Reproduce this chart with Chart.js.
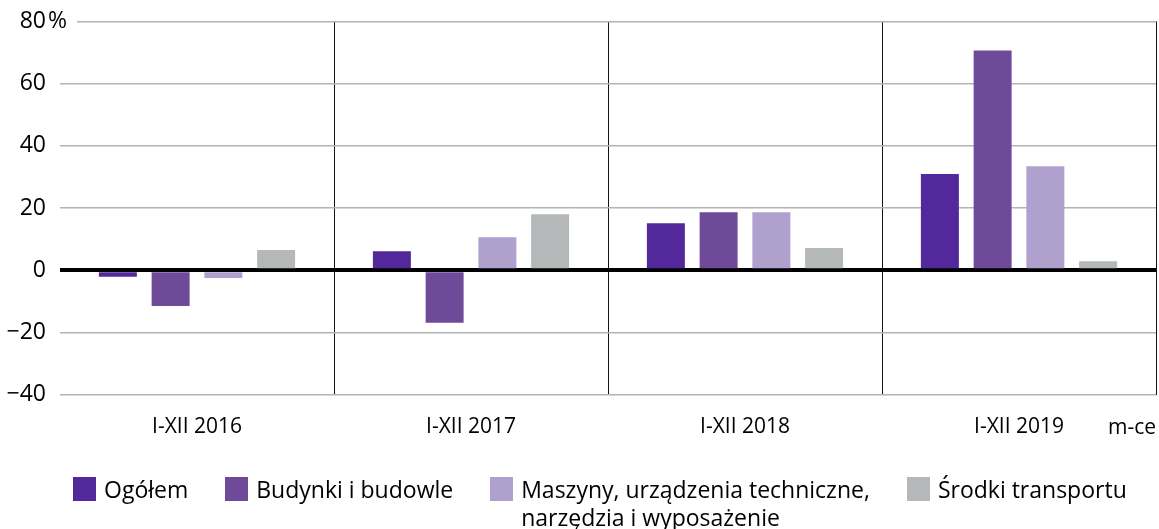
<!DOCTYPE html>
<html>
<head>
<meta charset="utf-8">
<script src="https://cdn.jsdelivr.net/npm/chart.js@4"></script>
<style>
  html, body { margin: 0; padding: 0; background: #fff; }
  #wrap { position: relative; width: 1159px; height: 529px; }
  #legend {
    position: absolute; left: 73px; top: 475px;
    display: flex; align-items: flex-start; gap: 37px;
    font-family: "Open Sans", sans-serif; font-size: 23px; color: #000; line-height: 28px;
  }
  .item { display: flex; align-items: flex-start; }
  .box { width: 23px; height: 24px; margin-top: 2px; margin-right: 8px; flex: none; }
  .lbl { white-space: pre-line; }
</style>
</head>
<body>
<div id="wrap">
  <canvas id="chart" width="1159" height="529"></canvas>
  <div id="legend"></div>
</div>
<script>
const categories = ["I-XII 2016", "I-XII 2017", "I-XII 2018", "I-XII 2019"];
const seriesNames = ["Ogółem", "Budynki i budowle", "Maszyny, urządzenia techniczne,\nnarzędzia i wyposażenie", "Środki transportu"];
const seriesColors = ["#52289a", "#6e4a98", "#b0a0ce", "#b5b8b9"];
const ogolem = [-2.1, 6.1, 15.1, 30.9];
const budynki = [-11.5, -16.9, 18.6, 70.7];
const maszyny = [-2.5, 10.6, 18.6, 33.4];
const srodki = [6.5, 18.0, 7.1, 2.9];
const seriesValues = [ogolem, budynki, maszyny, srodki];
const yTicks = [-40, -20, 0, 20, 40, 60, 80];
const unitLabel = "%";
const xUnitLabel = "m-ce";

const FONT = "'Open Sans'";

const datasets = seriesNames.map((name, i) => ({
  label: name,
  data: seriesValues[i],
  backgroundColor: seriesColors[i],
  borderWidth: 0,
  categoryPercentage: 0.77,
  barPercentage: 0.72,
}));

// legend as html
const legendEl = document.getElementById("legend");
seriesNames.forEach((name, i) => {
  const item = document.createElement("div");
  item.className = "item";
  item.innerHTML = '<span class="box" style="background:' + seriesColors[i] + '"></span><span class="lbl"></span>';
  item.querySelector(".lbl").textContent = name;
  legendEl.appendChild(item);
});

const extras = {
  id: "extras",
  afterDraw(chart) {
    const ctx = chart.ctx;
    const y = chart.scales.y;
    const x = chart.scales.x;
    const area = chart.chartArea;
    ctx.save();
    // cut top gridline where the % sign sits and draw it
    const yTop = y.getPixelForValue(yTicks[yTicks.length - 1]);
    ctx.fillStyle = "#fff";
    ctx.fillRect(area.left - 1, yTop - 3, 18, 6);
    ctx.fillStyle = "#000";
    ctx.font = "23px " + FONT;
    ctx.textBaseline = "middle";
    ctx.textAlign = "left";
    ctx.fillText(unitLabel, area.left - 12, yTop);
    // m-ce label on the category line
    ctx.font = "21px " + FONT;
    ctx.textAlign = "right";
    ctx.fillText(xUnitLabel, chart.width - 3, x.top + 34);
    ctx.restore();
  }
};

new Chart(document.getElementById("chart"), {
  type: "bar",
  data: { labels: categories, datasets },
  plugins: [extras],
  options: {
    responsive: false,
    animation: false,
    layout: { padding: { top: 21.5, right: 3, left: 0, bottom: 0 } },
    plugins: { legend: { display: false }, tooltip: { enabled: false } },
    scales: {
      x: {
        grid: {
          offset: true,
          drawTicks: false,
          color: (c) => (c.index === 0 || c.index === categories.length ? "rgba(0,0,0,0)" : "#111"),
          lineWidth: 1,
        },
        border: { display: false },
        ticks: { color: "#000", font: { family: FONT, size: 21 }, padding: 20 },
        afterFit: (s) => { s.height = 134.5; },
      },
      y: {
        min: -40,
        max: 80,
        afterBuildTicks: (s) => { s.ticks = yTicks.map((v) => ({ value: v })); },
        grid: {
          drawTicks: false,
          color: (c) => (c.tick && c.tick.value === 0 ? "#000" : "#b4b4b4"),
          lineWidth: (c) => (c.tick && c.tick.value === 0 ? 4 : 1.5),
        },
        border: { display: false },
        ticks: {
          color: "#000",
          font: { family: FONT, size: 23 },
          padding: 14,
          callback: (v) => (v < 0 ? "\u2212" + Math.abs(v) : String(v)),
        },
        afterFit: (s) => { s.width = 60; s.paddingTop = 0; s.paddingBottom = 0; },
      },
    },
  },
});
</script>
</body>
</html>
